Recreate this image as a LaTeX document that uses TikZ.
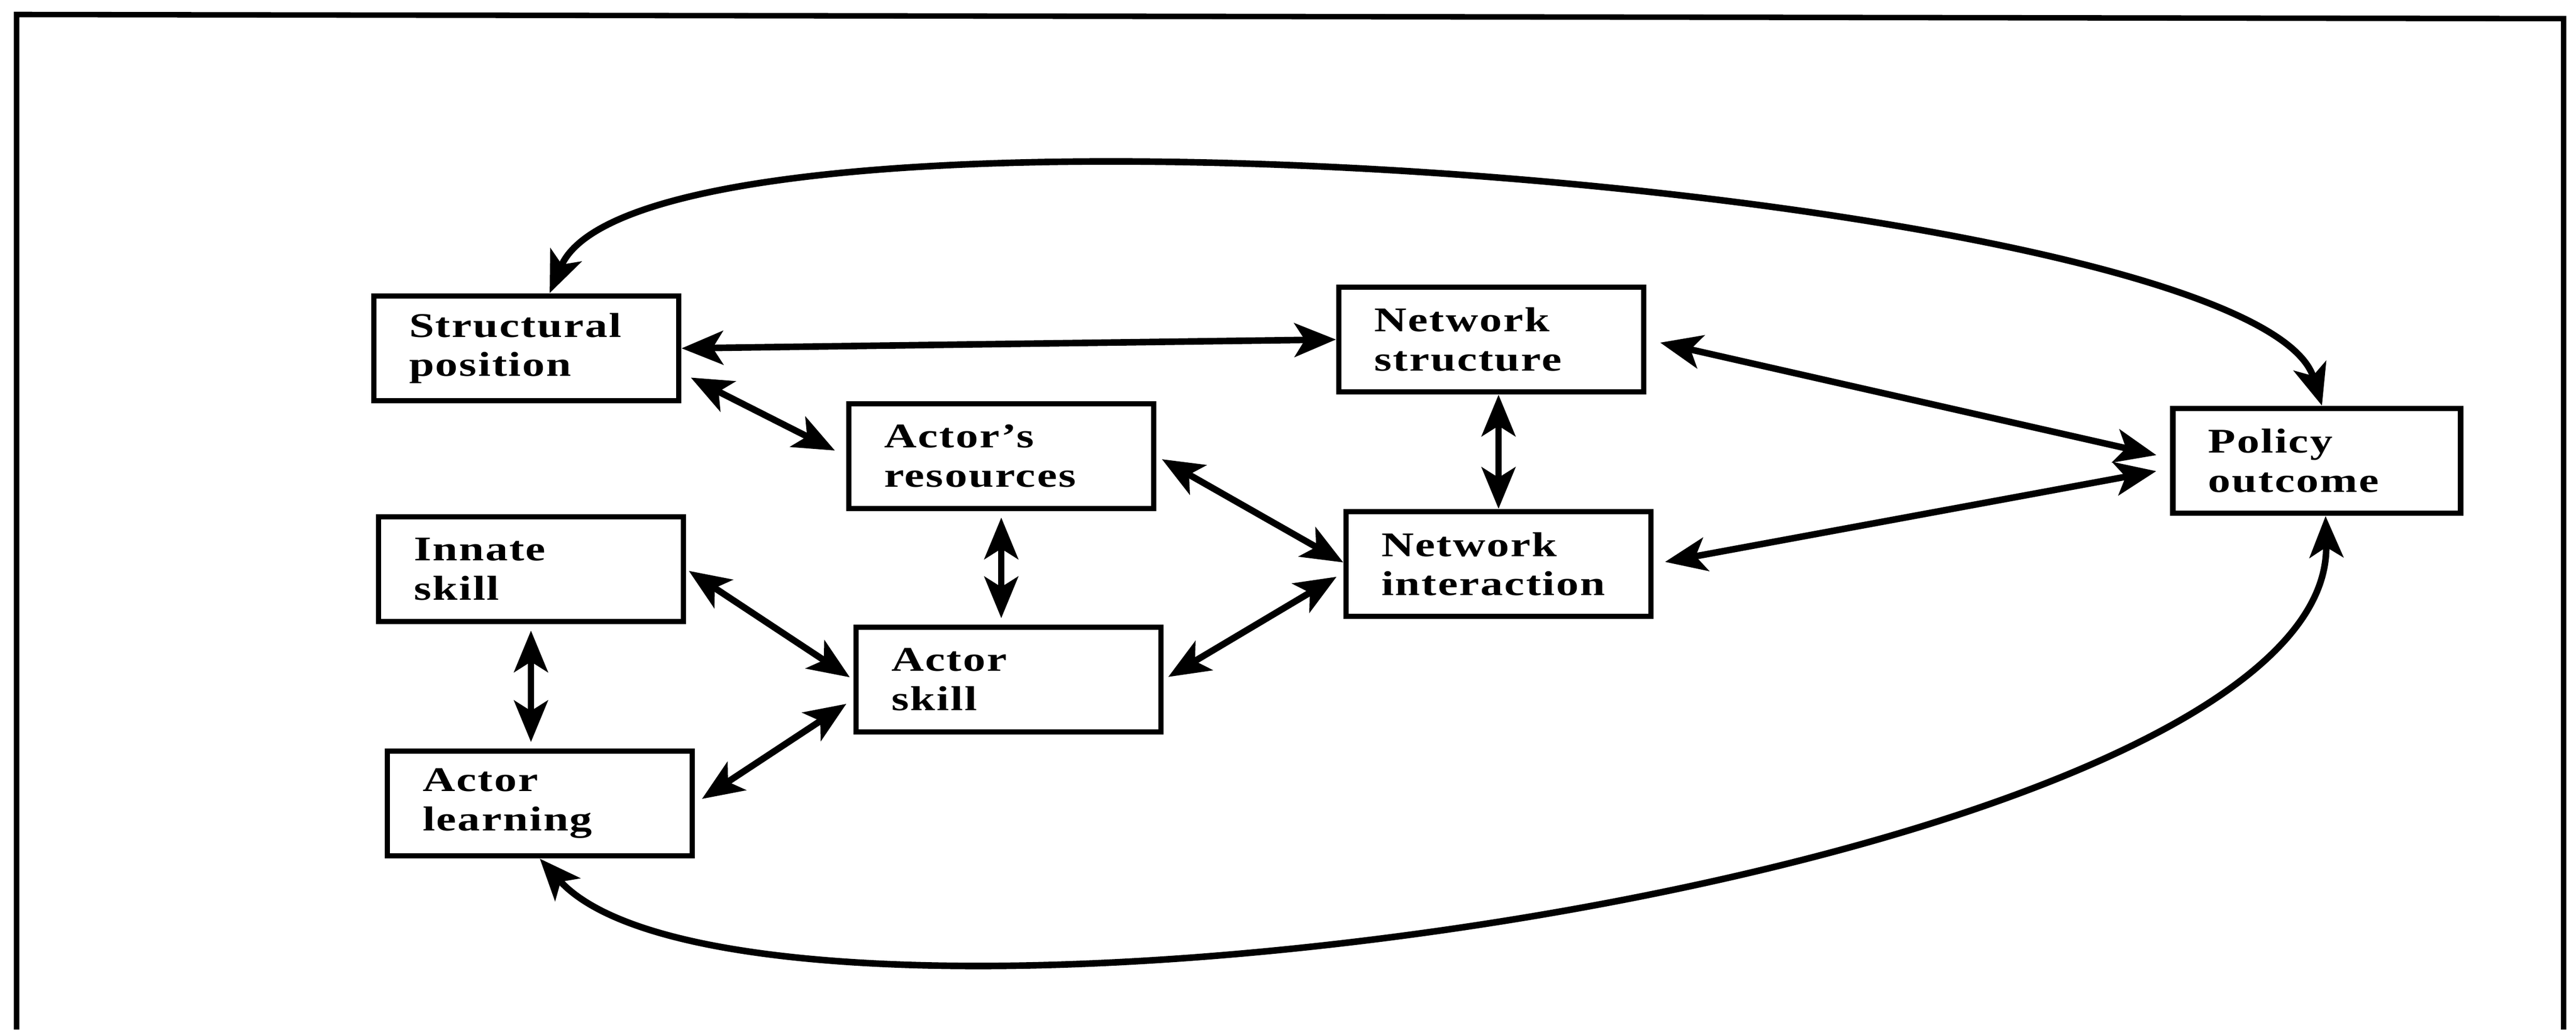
\documentclass[tikz,border=0pt]{standalone}
\usepackage{fontspec}
\setmainfont{Liberation Serif}[FakeStretch=1.3,LetterSpace=4]
\usetikzlibrary{arrows.meta}

\begin{document}
\begin{tikzpicture}[
    box/.style={draw, line width=3.1pt, rectangle, align=left, text width=4.52cm,
      inner xsep=0.68cm, minimum height=2.02cm,
      font=\fontsize{19}{21.5}\selectfont\bfseries},
    link/.style={<->, line width=3.6pt},
    >={Stealth[length=8mm,width=6.5mm,inset=2mm]}
  ]
      % Frame
      \draw[line width=3pt] (0.32,0) -- (0.32,19.58) -- (49.44,19.50) -- (49.44,0);

      % Boxes
      \node[box] (struct) at (10.15,13.14) {Structural\\position};
      \node[box] (res) at (19.31,11.06) {Actor’s\\resources};
      \node[box] (innate) at (10.24,8.88) {Innate\\skill};
      \node[box] (askill) at (19.45,6.75) {Actor\\skill};
      \node[box] (learning) at (10.41,4.36) {Actor\\learning};
      \node[box] (netstruct) at (28.76,13.31) {Network\\structure};
      \node[box] (netint) at (28.90,8.98) {Network\\interaction};
      \node[box, text width=4.19cm] (policy) at (44.68,10.97) {Policy\\outcome};

      % Links
      \draw[link] (struct.east) -- (netstruct.west);
      \draw[link, shorten <=0.2cm, shorten >=0.24cm] (struct.-9) -- (res.west);
      \draw[link, shorten <=0.12cm, shorten >=0.12cm] (res.south) -- (res.south |- askill.north);
      \draw[link, shorten <=0.12cm] (res.east) -- ([yshift=0.03cm]netint.west);
      \draw[link, shorten <=0.1cm, shorten >=0.15cm] (askill.east) -- ([yshift=-0.17cm]netint.west);
      \draw[link, shorten <=0.06cm, shorten >=0.08cm] (innate.east) -- (askill.west);
      \draw[link, shorten <=0.16cm, shorten >=0.16cm] (learning.east) -- ([yshift=-0.38cm]askill.west);
      \draw[link, shorten <=0.12cm, shorten >=0.12cm] (innate.south) -- (innate.south |- learning.north);
      \draw[link] (netint.north) -- (netint.north |- netstruct.south);
      \draw[link, shorten <=0.27cm, shorten >=0.27cm] (netstruct.east) -- ([yshift=0.05cm]policy.west);
      \draw[link, shorten <=0.22cm, shorten >=0.27cm] (netint.east) -- ([yshift=-0.15cm]policy.west);

      % Feedback loops
      \draw[link] ([xshift=0.45cm]struct.north) .. controls (12.5,18.66) and (43.5,16.26) .. ([xshift=0.1cm]policy.north);
      \draw[link] (learning.south) .. controls (14.5,-1.24) and (45.0,2.86) .. ([xshift=0.17cm]policy.south);

      \pgfresetboundingbox
      \path[use as bounding box] (0,0) rectangle (49.68,19.86);
    \end{tikzpicture}
\end{document}
